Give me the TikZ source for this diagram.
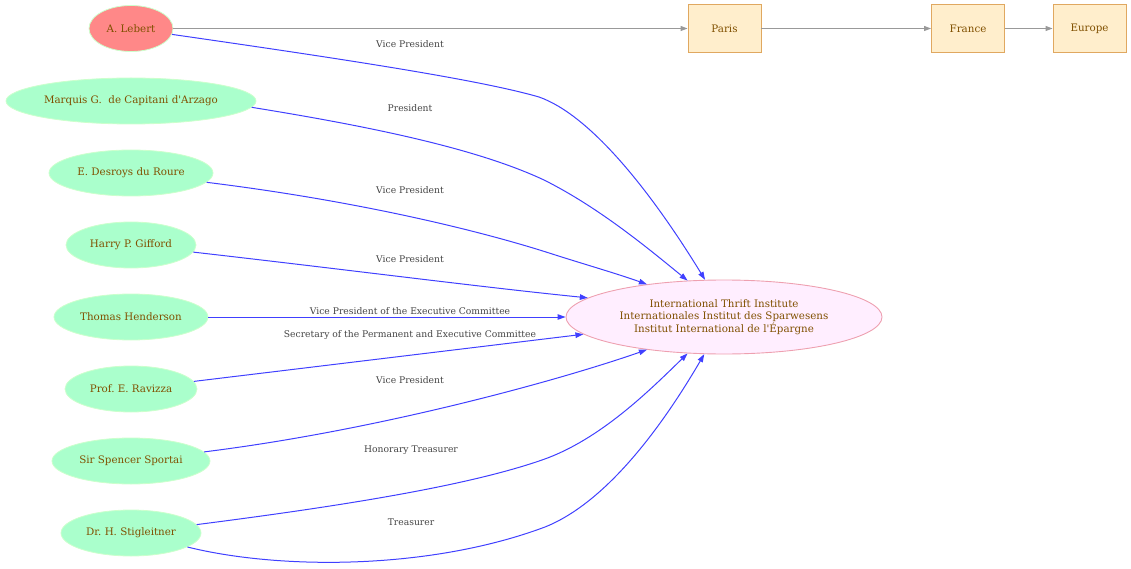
\documentclass[tikz,border=0pt]{standalone}
\usepackage{fontspec}
\setmainfont{DejaVu Serif}[Ligatures=TeXOff]
\usetikzlibrary{shapes.geometric,arrows.meta}
\definecolor{txtbrown}{HTML}{805000}
\definecolor{labgray}{HTML}{444444}
\definecolor{pfill}{HTML}{AAFFCC}
\definecolor{pdraw}{HTML}{CCFFCC}
\definecolor{rfill}{HTML}{FF8888}
\definecolor{cfill}{HTML}{FFEEFF}
\definecolor{cdraw}{HTML}{EEA0B0}
\definecolor{bfill}{HTML}{FFEECC}
\definecolor{bdraw}{HTML}{E0A860}
\definecolor{edgeblue}{HTML}{4040FF}
\definecolor{edgegray}{HTML}{999999}
\tikzset{
  person/.style={ellipse, fill=pfill, draw=pdraw, line width=0.8pt, inner sep=0pt,
    minimum height=46pt, text=txtbrown, font=\fontsize{10.3}{12}\selectfont},
  place/.style={rectangle, fill=bfill, draw=bdraw, line width=0.9pt, inner sep=0pt,
    minimum width=73pt, minimum height=48pt, text=txtbrown, font=\fontsize{10.3}{12}\selectfont},
  inst/.style={ellipse, fill=cfill, draw=cdraw, line width=0.9pt, inner sep=0pt,
    minimum width=316pt, minimum height=74pt, text=txtbrown, align=center,
    font=\fontsize{10.3}{12.5}\selectfont},
  rel/.style={draw=edgeblue, line width=1pt, -{Triangle[length=8pt,width=5.5pt]}},
  loc/.style={draw=edgegray, line width=1pt, -{Triangle[length=7pt,width=5pt]}},
  elab/.style={text=labgray, inner sep=0pt, font=\fontsize{9.2}{11}\selectfont}
}
\begin{document}
\frenchspacing
\begin{tikzpicture}[x=1pt,y=-1pt]
\useasboundingbox (0,0) rectangle (1131,569);
% nodes
\node[person, fill=rfill, minimum width=84pt] (lebert) at (131,28.5) {A. Lebert};
\node[person, minimum width=250pt] (marquis) at (131,101) {Marquis G.~~de Capitani d'Arzago};
\node[person, minimum width=164pt] (desroys) at (131,173) {E. Desroys du Roure};
\node[person, minimum width=130pt] (gifford) at (131,245) {Harry P. Gifford};
\node[person, minimum width=154pt] (henderson) at (131,317) {Thomas Henderson};
\node[person, minimum width=132pt] (ravizza) at (131,389) {Prof. E. Ravizza};
\node[person, minimum width=158pt] (sportai) at (131,461) {Sir Spencer Sportai};
\node[person, minimum width=140pt] (stig) at (131,533) {Dr. H. Stigleitner};
\node[inst] (c) at (724,317) {International Thrift Institute\\Internationales Institut des Sparwesens\\Institut International de l'Épargne};
\node[place] (paris) at (724.5,28.5) {Paris};
\node[place] (france) at (968,28.5) {France};
\node[place] (europe) at (1089.5,28.5) {Europe};
% location chain
\draw[loc] (lebert) -- (paris);
\draw[loc] (paris) -- (france);
\draw[loc] (france) -- (europe);
% relations
\draw[rel] (lebert) .. controls (350,60) and (480,80) .. (539,97) .. controls (590,115) and (650,190) .. (c.117.8);
\draw[rel] (marquis.-3.5) .. controls (380,128) and (480,150) .. (544,180) .. controls (600,208) and (650,250) .. (c.135.8);
\draw[rel] (desroys) .. controls (350,200) and (470,228) .. (546,252) .. controls (580,263) and (615,273) .. (c.157.2);
\draw[rel] (gifford) .. controls (350,270) and (480,287) .. (c.172.6);
\draw[rel] (henderson) -- (c.180);
\draw[rel] (ravizza) -- (c.187.4);
\draw[rel] (sportai) .. controls (380,430) and (560,380) .. (c.203.5);
\draw[rel] (stig) .. controls (350,505) and (470,485) .. (542,460) .. controls (600,440) and (650,390) .. (c.225);
\draw[rel] (stig) .. controls (280,570) and (430,570) .. (545,527) .. controls (605,503) and (660,430) .. (c.242.2);
% labels
\node[elab] (l1) at (410,44) {Vice President};
\node[elab] (l2) at (410,108) {President};
\node[elab] (l3) at (410,190) {Vice President};
\node[elab] (l4) at (410,259) {Vice President};
\node[elab] (l5) at (410,311) {Vice President of the Executive Committee};
\node[elab] (l6) at (410,335) {Secretary of the Permanent and Executive Committee};
\node[elab] (l7) at (410,380) {Vice President};
\node[elab] (l8) at (411,450) {Honorary Treasurer};
\node[elab] (l9) at (411,522) {Treasurer};
\end{tikzpicture}
\end{document}
